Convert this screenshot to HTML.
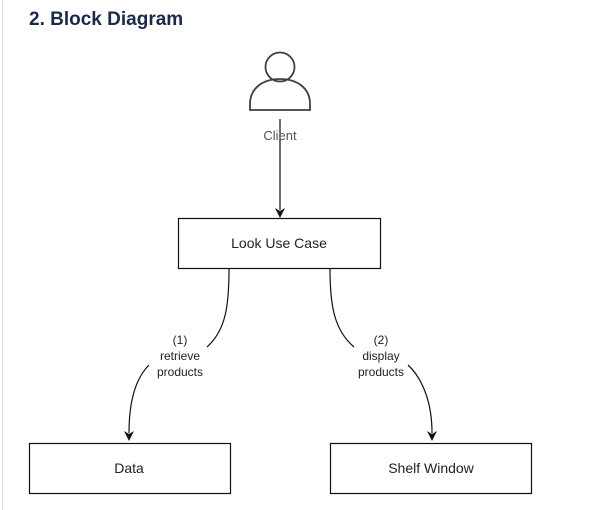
<!DOCTYPE html>
<html><head><style>
body{margin:0;background:#fff;width:589px;height:510px;overflow:hidden;position:relative;font-family:"Liberation Sans",sans-serif}
.bar{position:absolute;left:2px;top:0;width:1px;height:510px;background:#e0e0e0}
h2{position:absolute;left:29px;top:9px;margin:0;font-size:19px;font-weight:bold;color:#1b2a48}
</style></head><body>
<div class="bar"></div>
<h2>2. Block Diagram</h2>
<svg width="589" height="510" style="position:absolute;left:0;top:0" font-family="Liberation Sans, sans-serif">
<g fill="none" stroke="#3a3f45" stroke-width="1.8">
<circle cx="280" cy="67" r="14.5"/>
<path d="M250,110 L310,110 L310,104 C310,88 297,79 280,79 C263,79 250,88 250,104 Z"/>
</g>
<g stroke="#111" stroke-width="1.2" fill="none">
<line x1="280" y1="119" x2="280" y2="210"/>
<rect x="178.5" y="218.5" width="202" height="50" fill="#fff"/>
<rect x="29.5" y="443.5" width="201" height="50"/>
<rect x="330.5" y="443.5" width="201" height="50"/>
<path d="M229,269 C229,305 226,330 207,347"/>
<path d="M149,365 C134,380 129,405 129,433"/>
<path d="M330,269 C330,305 334,330 354,347"/>
<path d="M408,365 C424,380 432,405 432,433"/>
</g>
<g fill="#111">
<path d="M275,208 L280,218 L285,208 L280,211 Z"/>
<path d="M124,431 L129,441 L134,431 L129,434 Z"/>
<path d="M427,431 L432,441 L437,431 L432,434 Z"/>
</g>
<text x="280" y="140" font-size="13" fill="#555" text-anchor="middle">Client</text>
<g font-size="14" fill="#222" text-anchor="middle">
<text x="279" y="248">Look Use Case</text>
<text x="129" y="473">Data</text>
<text x="431" y="473">Shelf Window</text>
</g>
<g font-size="12" fill="#222" text-anchor="middle">
<text x="180" y="344">(1)</text>
<text x="180" y="360">retrieve</text>
<text x="180" y="376">products</text>
<text x="381" y="344">(2)</text>
<text x="381" y="360">display</text>
<text x="381" y="376">products</text>
</g>
</svg>
</body></html>
